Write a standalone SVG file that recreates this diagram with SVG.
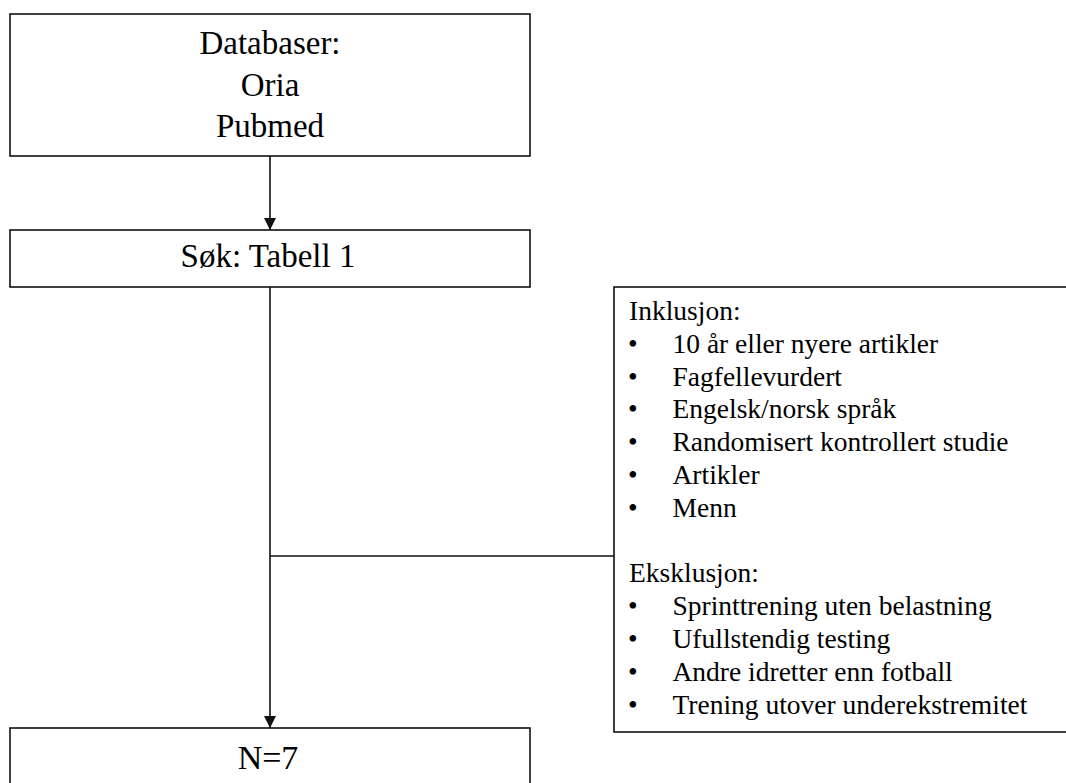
<svg xmlns="http://www.w3.org/2000/svg" width="1066" height="783" viewBox="0 0 1066 783">
<style>
.box{fill:#fff;stroke:#111;stroke-width:1.6}
.con{fill:none;stroke:#111;stroke-width:1.6}
.big{font-family:"Liberation Serif","Times New Roman",serif;font-size:33px;fill:#000;text-anchor:middle}
.sm{font-family:"Liberation Serif","Times New Roman",serif;font-size:27.5px;fill:#000}
</style>
<defs>
<marker id="arr" markerUnits="userSpaceOnUse" markerWidth="12" markerHeight="12" viewBox="0 0 12 12" refX="12" refY="6" orient="auto">
<path d="M0,0 L12,6 L0,12 z" fill="#111"/>
</marker>
</defs>
<rect width="1066" height="783" fill="#fff"/>
<g id="connectors">
<line class="con" x1="270" y1="156" x2="270" y2="230" marker-end="url(#arr)"/>
<line class="con" x1="270" y1="287" x2="270" y2="728" marker-end="url(#arr)"/>
<line class="con" x1="270" y1="556" x2="614" y2="556"/>
</g>
<g id="databaser">
<rect class="box" x="10" y="14" width="520" height="142"/>
<text class="big" x="270" y="54">Databaser:</text>
<text class="big" x="270" y="96">Oria</text>
<text class="big" x="270" y="137">Pubmed</text>
</g>
<g id="sok">
<rect class="box" x="10" y="230" width="520" height="57"/>
<text class="big" x="268" y="267">Søk: Tabell 1</text>
</g>
<g id="kriterier">
<rect class="box" x="614" y="287" width="470" height="445"/>
<text class="sm" x="629" y="320">Inklusjon:</text>
<text class="sm" x="628" y="352.8">•</text><text class="sm" x="672.5" y="352.8">10 år eller nyere artikler</text>
<text class="sm" x="628" y="385.6">•</text><text class="sm" x="672.5" y="385.6">Fagfellevurdert</text>
<text class="sm" x="628" y="418.4">•</text><text class="sm" x="672.5" y="418.4">Engelsk/norsk språk</text>
<text class="sm" x="628" y="451.2">•</text><text class="sm" x="672.5" y="451.2">Randomisert kontrollert studie</text>
<text class="sm" x="628" y="484">•</text><text class="sm" x="672.5" y="484">Artikler</text>
<text class="sm" x="628" y="516.8">•</text><text class="sm" x="672.5" y="516.8">Menn</text>
<text class="sm" x="629" y="582.4">Eksklusjon:</text>
<text class="sm" x="628" y="615.2">•</text><text class="sm" x="672.5" y="615.2">Sprinttrening uten belastning</text>
<text class="sm" x="628" y="648">•</text><text class="sm" x="672.5" y="648">Ufullstendig testing</text>
<text class="sm" x="628" y="680.8">•</text><text class="sm" x="672.5" y="680.8">Andre idretter enn fotball</text>
<text class="sm" x="628" y="713.6">•</text><text class="sm" x="672.5" y="713.6">Trening utover underekstremitet</text>
</g>
<g id="resultat">
<rect class="box" x="10" y="728" width="520" height="70"/>
<text class="big" x="268" y="769" style="font-size:34px">N=7</text>
</g>
</svg>
